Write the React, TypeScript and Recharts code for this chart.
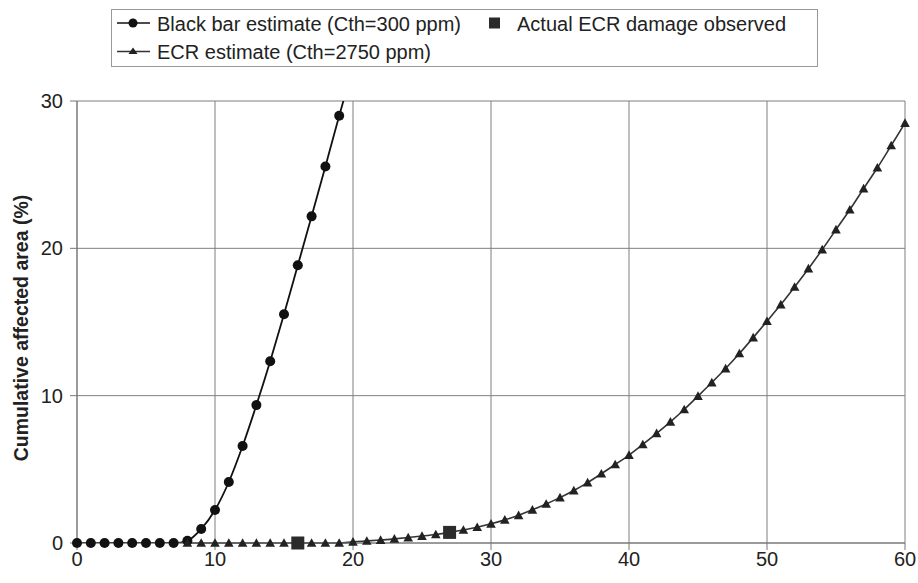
import React from 'react';
import { ComposedChart, Line, Scatter, XAxis, YAxis, CartesianGrid } from 'recharts';

const blackX = [0, 1, 2, 3, 4, 5, 6, 7, 8, 9, 10, 11, 12, 13, 14, 15, 16, 17, 18, 19, 20];
const blackY = [0, 0, 0, 0, 0, 0, 0, 0, 0.15, 0.95, 2.24, 4.14, 6.58, 9.36, 12.34, 15.53, 18.85, 22.17, 25.56, 29.0, 32.3];

const ecrX = [8, 9, 10, 11, 12, 13, 14, 15, 16, 17, 18, 19, 20, 21, 22, 23, 24, 25, 26, 27, 28, 29, 30, 31, 32, 33, 34, 35, 36, 37, 38, 39, 40, 41, 42, 43, 44, 45, 46, 47, 48, 49, 50, 51, 52, 53, 54, 55, 56, 57, 58, 59, 60];
const ecrY = [0, 0, 0, 0, 0, 0, 0, 0, 0, 0, 0, 0, 0.08, 0.14, 0.2, 0.28, 0.37, 0.47, 0.58, 0.72, 0.88, 1.07, 1.3, 1.57, 1.88, 2.25, 2.65, 3.08, 3.56, 4.1, 4.7, 5.33, 5.97, 6.69, 7.44, 8.22, 9.06, 9.97, 10.89, 11.84, 12.86, 13.94, 15.05, 16.18, 17.38, 18.62, 19.91, 21.27, 22.62, 24.05, 25.47, 26.98, 28.5];

const obsX = [16, 27];
const obsY = [0, 0.72];

const xTicks = [0, 10, 20, 30, 40, 50, 60];
const yTicks = [0, 10, 20, 30];

const seriesNames = ['Black bar estimate (Cth=300 ppm)', 'Actual ECR damage observed', 'ECR estimate (Cth=2750 ppm)'];
const yAxisTitle = 'Cumulative affected area (%)';

const blackData = blackX.map((x, i) => ({ x, y: blackY[i] }));
const ecrData = ecrX.map((x, i) => ({ x, y: ecrY[i] }));
const obsData = obsX.map((x, i) => ({ x, y: obsY[i] }));

const FONT = '"Liberation Sans", Arial, Helvetica, sans-serif';

const TriangleDot = (props: any) => {
  const { cx, cy, index } = props;
  if (cx == null || cy == null) return <g key={`t${index}`} />;
  const s = 4.8;
  return (
    <path
      key={`t${index}`}
      d={`M${cx},${cy - s}L${cx + s},${cy + s * 0.8}L${cx - s},${cy + s * 0.8}Z`}
      fill="#222"
    />
  );
};

const SquareShape = (props: any) => {
  const { cx, cy } = props;
  const h = 6.5;
  return <rect x={cx - h} y={cy - h} width={h * 2} height={h * 2} fill="#2b2b2b" />;
};

const YTitle = () => (
  <text
    x={21}
    y={328}
    transform="rotate(-90 21 328)"
    textAnchor="middle"
    dominantBaseline="central"
    fontFamily={FONT}
    fontWeight="bold"
    fontSize={19.5}
    fill="#222"
  >
    {yAxisTitle}
  </text>
);

const LegendBox = () => (
  <div
    style={{
      position: 'absolute',
      left: 111,
      top: 9,
      width: 707,
      height: 58,
      border: '1px solid #999',
      background: '#fff',
      boxSizing: 'border-box',
    }}
  >
    <svg width={707} height={58} style={{ position: 'absolute', left: -1, top: -1 }}>
      <line x1={6} y1={14} x2={39} y2={14} stroke="#111" strokeWidth={1.6} />
      <circle cx={22} cy={14} r={4.5} fill="#111" />
      <text x={46} y={21.5} fontFamily={FONT} fontSize={20} fill="#222">{seriesNames[0]}</text>
      <rect x={378} y={8.5} width={11} height={11} fill="#2b2b2b" />
      <text x={406} y={21.5} fontFamily={FONT} fontSize={20} fill="#222">{seriesNames[1]}</text>
      <line x1={6} y1={42.5} x2={39} y2={42.5} stroke="#333" strokeWidth={1.6} />
      <path d="M22,38.5L26.5,45L17.5,45Z" fill="#222" />
      <text x={46} y={50} fontFamily={FONT} fontSize={20} fill="#222">{seriesNames[2]}</text>
    </svg>
  </div>
);

export default function App() {
  return (
    <div style={{ position: 'absolute', left: 0, top: 0, width: 918, height: 583, background: '#fff' }}>
      <ComposedChart
        width={918}
        height={583}
        margin={{ top: 101, right: 13, bottom: 10, left: 17 }}
      >
        <CartesianGrid yAxisId="main" stroke="#7f7f7f" strokeWidth={1} />
        <XAxis
          type="number"
          dataKey="x"
          domain={[0, 60]}
          ticks={xTicks}
          interval={0}
          height={30}
          tickSize={7}
          tickMargin={2}
          stroke="#777"
          tick={{ fill: '#222', fontSize: 20, fontFamily: FONT }}
        />
        <YAxis
          yAxisId="main"
          type="number"
          domain={[0, 30]}
          ticks={yTicks}
          interval={0}
          width={60}
          tickSize={7}
          tickMargin={7}
          stroke="#777"
          tick={{ fill: '#222', fontSize: 20, fontFamily: FONT }}
          label={{ content: () => <YTitle /> }}
        />
        <YAxis yAxisId="clip" orientation="right" width={0} type="number" domain={[0, 30]} allowDataOverflow hide />
        <Line
          yAxisId="clip"
          data={blackData}
          dataKey="y"
          type="monotone"
          stroke="#111"
          strokeWidth={1.8}
          dot={{ r: 5, fill: '#111', stroke: 'none', clipDot: false }}
          activeDot={false}
          isAnimationActive={false}
        />
        <Line
          yAxisId="main"
          data={ecrData}
          dataKey="y"
          type="monotone"
          stroke="#333"
          strokeWidth={1.6}
          dot={TriangleDot}
          activeDot={false}
          isAnimationActive={false}
        />
        <Scatter
          yAxisId="main"
          data={obsData}
          dataKey="y"
          shape={SquareShape}
          isAnimationActive={false}
        />
      </ComposedChart>
      <LegendBox />
    </div>
  );
}
